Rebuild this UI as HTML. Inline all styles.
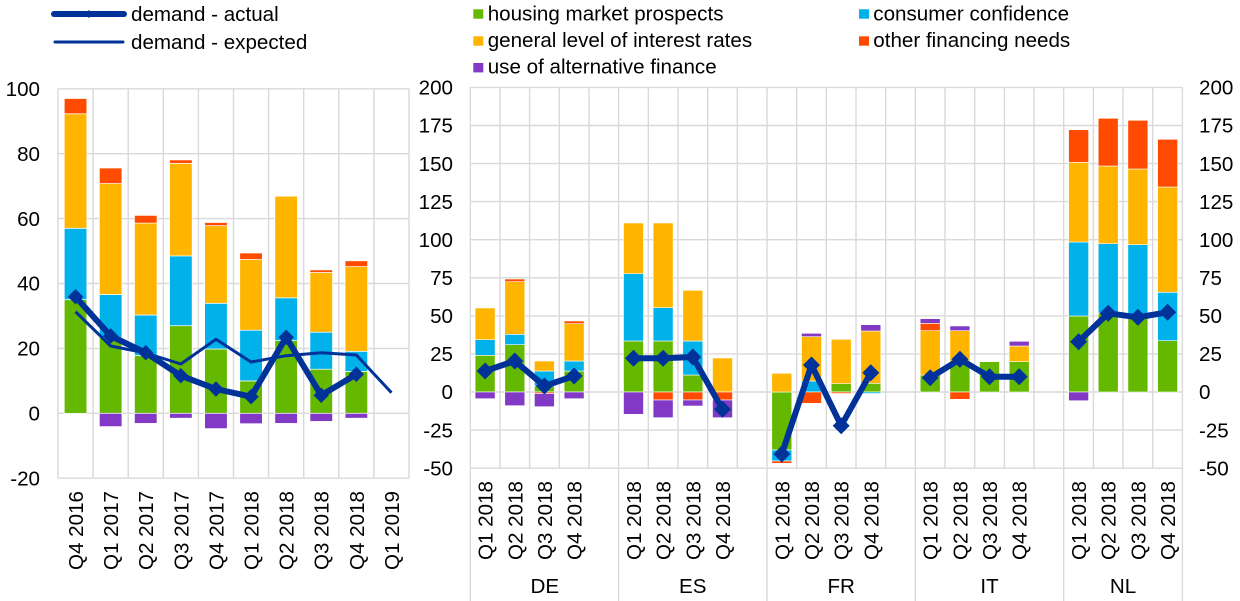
<!DOCTYPE html>
<html><head><meta charset="utf-8"><style>
html,body{margin:0;padding:0;background:#fff;}
svg{display:block;font-family:"Liberation Sans",Arial,sans-serif;}
</style></head><body>
<svg width="1240" height="601" viewBox="0 0 1240 601" xmlns="http://www.w3.org/2000/svg">
<rect width="1240" height="601" fill="#fff"/>
<!-- Legend left -->
<line x1="54" y1="14" x2="124" y2="14" stroke="#003299" stroke-width="6" stroke-linecap="round"/>
<polygon points="89,10 93,14 89,18 85,14" fill="#003299"/>
<line x1="55" y1="42" x2="123" y2="42" stroke="#003299" stroke-width="3" stroke-linecap="round"/>
<g font-size="20.6" fill="#000">
<text x="131" y="21">demand - actual</text>
<text x="131" y="49">demand - expected</text>
<!-- Legend right -->
<rect x="473.3" y="9.3" width="10" height="9.4" fill="#65b800"/>
<text x="487.7" y="20.5">housing market prospects</text>
<rect x="473.3" y="36.3" width="10" height="9.4" fill="#ffb400"/>
<text x="487.7" y="47">general level of interest rates</text>
<rect x="473.3" y="63" width="10" height="9.4" fill="#8139c6"/>
<text x="487.7" y="73.5">use of alternative finance</text>
<rect x="859" y="9.3" width="10" height="9.4" fill="#00b1ea"/>
<text x="873.3" y="20.5">consumer confidence</text>
<rect x="859" y="36.3" width="10" height="9.4" fill="#ff4b00"/>
<text x="873.3" y="47">other financing needs</text>
</g>

<!-- LEFT CHART grid -->
<g stroke="#d9d9d9" stroke-width="1.4" fill="none">
<path d="M58 88.8H409M58 153.7H409M58 218.6H409M58 283.5H409M58 348.4H409M58 413.3H409M58 478.2H409"/>
<path d="M58 88.8V478.2M93.1 88.8V478.2M128.2 88.8V478.2M163.3 88.8V478.2M198.4 88.8V478.2M233.5 88.8V478.2M268.6 88.8V478.2M303.7 88.8V478.2M338.8 88.8V478.2M373.9 88.8V478.2M409 88.8V478.2"/>
</g>
<g font-size="20.6" fill="#000" text-anchor="end">
<text x="40" y="96">100</text>
<text x="40" y="160.9">80</text>
<text x="40" y="225.8">60</text>
<text x="40" y="290.7">40</text>
<text x="40" y="355.6">20</text>
<text x="40" y="420.5">0</text>
<text x="40" y="485.4">-20</text>
</g>
<!-- left bars -->
<g stroke="#fff" stroke-width="0.7">
<g fill="#65b800">
<rect x="64.25" y="299.7" width="22.6" height="113.6"/>
<rect x="99.35" y="337.7" width="22.6" height="75.6"/>
<rect x="134.45" y="355.5" width="22.6" height="57.8"/>
<rect x="169.55" y="325.7" width="22.6" height="87.6"/>
<rect x="204.65" y="349" width="22.6" height="64.3"/>
<rect x="239.75" y="380.9" width="22.6" height="32.4"/>
<rect x="274.85" y="340.6" width="22.6" height="72.7"/>
<rect x="309.95" y="369.2" width="22.6" height="44.1"/>
<rect x="345.05" y="371.4" width="22.6" height="41.9"/>
</g>
<g fill="#00b1ea">
<rect x="64.25" y="228.3" width="22.6" height="71.4"/>
<rect x="99.35" y="294.5" width="22.6" height="43.2"/>
<rect x="134.45" y="315" width="22.6" height="40.5"/>
<rect x="169.55" y="255.9" width="22.6" height="69.8"/>
<rect x="204.65" y="303.3" width="22.6" height="45.7"/>
<rect x="239.75" y="330.2" width="22.6" height="50.7"/>
<rect x="274.85" y="297.8" width="22.6" height="42.8"/>
<rect x="309.95" y="332.2" width="22.6" height="37"/>
<rect x="345.05" y="351.3" width="22.6" height="20.1"/>
</g>
<g fill="#ffb400">
<rect x="64.25" y="113.8" width="22.6" height="114.5"/>
<rect x="99.35" y="183.6" width="22.6" height="110.9"/>
<rect x="134.45" y="223.1" width="22.6" height="91.9"/>
<rect x="169.55" y="163.4" width="22.6" height="92.5"/>
<rect x="204.65" y="225.7" width="22.6" height="77.6"/>
<rect x="239.75" y="259.5" width="22.6" height="70.7"/>
<rect x="274.85" y="196.2" width="22.6" height="101.6"/>
<rect x="309.95" y="272.5" width="22.6" height="59.7"/>
<rect x="345.05" y="266.6" width="22.6" height="84.7"/>
</g>
<g fill="#ff4b00">
<rect x="64.25" y="98.5" width="22.6" height="15.3"/>
<rect x="99.35" y="168" width="22.6" height="15.6"/>
<rect x="134.45" y="215.4" width="22.6" height="7.7"/>
<rect x="169.55" y="159.9" width="22.6" height="3.5"/>
<rect x="204.65" y="222.5" width="22.6" height="3.2"/>
<rect x="239.75" y="253" width="22.6" height="6.5"/>
<rect x="309.95" y="269.9" width="22.6" height="2.6"/>
<rect x="345.05" y="260.8" width="22.6" height="5.8"/>
</g>
<g fill="#8139c6">
<rect x="99.35" y="413.3" width="22.6" height="13.3"/>
<rect x="134.45" y="413.3" width="22.6" height="10.1"/>
<rect x="169.55" y="413.3" width="22.6" height="4.9"/>
<rect x="204.65" y="413.3" width="22.6" height="15.3"/>
<rect x="239.75" y="413.3" width="22.6" height="10.4"/>
<rect x="274.85" y="413.3" width="22.6" height="10.1"/>
<rect x="309.95" y="413.3" width="22.6" height="8.1"/>
<rect x="345.05" y="413.3" width="22.6" height="4.9"/>
</g>
</g>
<!-- left lines -->
<polyline fill="none" stroke="#003299" stroke-width="3" stroke-linejoin="round" points="75.55,311.7 110.65,346 145.75,353 180.85,364 215.95,339.3 251.05,362 286.15,355.7 321.25,352.7 356.35,355 391.45,392.7"/>
<polyline fill="none" stroke="#003299" stroke-width="6" stroke-linejoin="round" points="75.55,296.7 110.65,336 145.75,352.7 180.85,375.7 215.95,389 251.05,396.7 286.15,337.3 321.25,395.3 356.35,374.3"/>
<g fill="#003299">
<polygon points="75.55,289 83.25,296.7 75.55,304.4 67.85,296.7"/>
<polygon points="110.65,328.3 118.35,336 110.65,343.7 102.95,336"/>
<polygon points="145.75,345 153.45,352.7 145.75,360.4 138.05,352.7"/>
<polygon points="180.85,368 188.55,375.7 180.85,383.4 173.15,375.7"/>
<polygon points="215.95,381.3 223.65,389 215.95,396.7 208.25,389"/>
<polygon points="251.05,389 258.75,396.7 251.05,404.4 243.35,396.7"/>
<polygon points="286.15,329.6 293.85,337.3 286.15,345 278.45,337.3"/>
<polygon points="321.25,387.6 328.95,395.3 321.25,403 313.55,395.3"/>
<polygon points="356.35,366.6 364.05,374.3 356.35,382 348.65,374.3"/>
</g>
<g font-size="20.6" fill="#000" text-anchor="end">
<text transform="translate(83,491) rotate(-90)">Q4 2016</text>
<text transform="translate(118.1,491) rotate(-90)">Q1 2017</text>
<text transform="translate(153.2,491) rotate(-90)">Q2 2017</text>
<text transform="translate(188.3,491) rotate(-90)">Q3 2017</text>
<text transform="translate(223.4,491) rotate(-90)">Q4 2017</text>
<text transform="translate(258.5,491) rotate(-90)">Q1 2018</text>
<text transform="translate(293.6,491) rotate(-90)">Q2 2018</text>
<text transform="translate(328.7,491) rotate(-90)">Q3 2018</text>
<text transform="translate(363.8,491) rotate(-90)">Q4 2018</text>
<text transform="translate(398.9,491) rotate(-90)">Q1 2019</text>
</g>

<!-- RIGHT CHART grid -->
<g stroke="#d9d9d9" stroke-width="1.4" fill="none">
<path d="M470.3 87.4H1182.4M470.3 125.5H1182.4M470.3 163.6H1182.4M470.3 201.6H1182.4M470.3 239.7H1182.4M470.3 277.8H1182.4M470.3 315.9H1182.4M470.3 353.9H1182.4M470.3 392H1182.4M470.3 430.1H1182.4M470.3 468.2H1182.4"/>
<path d="M470.3 87.4V468.2M500 87.4V468.2M529.6 87.4V468.2M559.3 87.4V468.2M589 87.4V468.2M618.6 87.4V468.2M648.3 87.4V468.2M678 87.4V468.2M707.7 87.4V468.2M737.3 87.4V468.2M767 87.4V468.2M796.7 87.4V468.2M826.3 87.4V468.2M856 87.4V468.2M885.7 87.4V468.2M915.3 87.4V468.2M945 87.4V468.2M974.7 87.4V468.2M1004.4 87.4V468.2M1034 87.4V468.2M1063.7 87.4V468.2M1093.4 87.4V468.2M1123 87.4V468.2M1152.7 87.4V468.2M1182.4 87.4V468.2"/>
<path d="M470.3 468V601M618.6 468V601M767 468V601M915.3 468V601M1063.7 468V601M1182.4 468V601"/>
</g>
<g font-size="20.6" fill="#000" text-anchor="end">
<text x="453" y="94.6">200</text>
<text x="453" y="132.7">175</text>
<text x="453" y="170.8">150</text>
<text x="453" y="208.8">125</text>
<text x="453" y="246.9">100</text>
<text x="453" y="285">75</text>
<text x="453" y="323.1">50</text>
<text x="453" y="361.1">25</text>
<text x="453" y="399.2">0</text>
<text x="453" y="437.3">-25</text>
<text x="453" y="475.4">-50</text>
</g>
<g font-size="20.6" fill="#000">
<text x="1199" y="94.6">200</text>
<text x="1199" y="132.7">175</text>
<text x="1199" y="170.8">150</text>
<text x="1199" y="208.8">125</text>
<text x="1199" y="246.9">100</text>
<text x="1199" y="285">75</text>
<text x="1199" y="323.1">50</text>
<text x="1199" y="361.1">25</text>
<text x="1199" y="399.2">0</text>
<text x="1199" y="437.3">-25</text>
<text x="1199" y="475.4">-50</text>
</g>
<!-- right bars -->
<g stroke="#fff" stroke-width="0.6">
<g fill="#65b800">
<rect x="475.1" y="355.3" width="20" height="36.7"/>
<rect x="504.8" y="344.7" width="20" height="47.3"/>
<rect x="534.4" y="386" width="20" height="6"/>
<rect x="564.1" y="371" width="20" height="21"/>
<rect x="623.5" y="341" width="20" height="51"/>
<rect x="653.1" y="341" width="20" height="51"/>
<rect x="682.8" y="375" width="20" height="17"/>
<rect x="771.8" y="392" width="20" height="58"/>
<rect x="831.2" y="383.7" width="20" height="8.3"/>
<rect x="860.8" y="383.3" width="20" height="8.7"/>
<rect x="920.2" y="375" width="20" height="17"/>
<rect x="949.9" y="361.7" width="20" height="30.3"/>
<rect x="979.5" y="361.7" width="20" height="30.3"/>
<rect x="1009.2" y="361.7" width="20" height="30.3"/>
<rect x="1068.6" y="316" width="20" height="76"/>
<rect x="1098.2" y="313" width="20" height="79"/>
<rect x="1127.9" y="316.7" width="20" height="75.3"/>
<rect x="1157.6" y="340.7" width="20" height="51.3"/>
</g>
<g fill="#00b1ea">
<rect x="475.1" y="339.7" width="20" height="15.6"/>
<rect x="504.8" y="334.3" width="20" height="10.4"/>
<rect x="534.4" y="371" width="20" height="15"/>
<rect x="564.1" y="361" width="20" height="10"/>
<rect x="623.5" y="273.7" width="20" height="67.3"/>
<rect x="653.1" y="307.7" width="20" height="33.3"/>
<rect x="682.8" y="341" width="20" height="34"/>
<rect x="771.8" y="450" width="20" height="11"/>
<rect x="801.5" y="381" width="20" height="11"/>
<rect x="860.8" y="392" width="20" height="1.5"/>
<rect x="1068.6" y="242" width="20" height="74"/>
<rect x="1098.2" y="243.7" width="20" height="69.3"/>
<rect x="1127.9" y="244.7" width="20" height="72"/>
<rect x="1157.6" y="292.3" width="20" height="48.4"/>
</g>
<g fill="#ffb400">
<rect x="475.1" y="308" width="20" height="31.7"/>
<rect x="504.8" y="281.7" width="20" height="52.6"/>
<rect x="534.4" y="361" width="20" height="10"/>
<rect x="564.1" y="323.7" width="20" height="37.3"/>
<rect x="623.5" y="223" width="20" height="50.7"/>
<rect x="653.1" y="223" width="20" height="84.7"/>
<rect x="682.8" y="290.3" width="20" height="50.7"/>
<rect x="712.5" y="358" width="20" height="34"/>
<rect x="771.8" y="373.3" width="20" height="18.7"/>
<rect x="801.5" y="336.7" width="20" height="44.3"/>
<rect x="831.2" y="339.3" width="20" height="44.4"/>
<rect x="860.8" y="331" width="20" height="52.3"/>
<rect x="920.2" y="330.7" width="20" height="44.3"/>
<rect x="949.9" y="330.7" width="20" height="31"/>
<rect x="1009.2" y="346" width="20" height="15.7"/>
<rect x="1068.6" y="162.3" width="20" height="79.7"/>
<rect x="1098.2" y="166" width="20" height="77.7"/>
<rect x="1127.9" y="169" width="20" height="75.7"/>
<rect x="1157.6" y="187" width="20" height="105.3"/>
</g>
<g fill="#ff4b00">
<rect x="504.8" y="279" width="20" height="2.7"/>
<rect x="534.4" y="392" width="20" height="1.5"/>
<rect x="564.1" y="321" width="20" height="2.7"/>
<rect x="653.1" y="392" width="20" height="8"/>
<rect x="682.8" y="392" width="20" height="8"/>
<rect x="712.5" y="392" width="20" height="8"/>
<rect x="771.8" y="461" width="20" height="2.3"/>
<rect x="801.5" y="392" width="20" height="11.3"/>
<rect x="831.2" y="392" width="20" height="1.5"/>
<rect x="920.2" y="323.3" width="20" height="7.4"/>
<rect x="949.9" y="392" width="20" height="7.3"/>
<rect x="1068.6" y="129.7" width="20" height="32.6"/>
<rect x="1098.2" y="118.3" width="20" height="47.7"/>
<rect x="1127.9" y="120.3" width="20" height="48.7"/>
<rect x="1157.6" y="139.3" width="20" height="47.7"/>
</g>
<g fill="#8139c6">
<rect x="475.1" y="392" width="20" height="6.7"/>
<rect x="504.8" y="392" width="20" height="13.7"/>
<rect x="534.4" y="393.5" width="20" height="13.2"/>
<rect x="564.1" y="392" width="20" height="6.7"/>
<rect x="623.5" y="392" width="20" height="22.3"/>
<rect x="653.1" y="400" width="20" height="17.7"/>
<rect x="682.8" y="400" width="20" height="6"/>
<rect x="712.5" y="400" width="20" height="17.7"/>
<rect x="801.5" y="333.3" width="20" height="3.4"/>
<rect x="860.8" y="324.7" width="20" height="6.3"/>
<rect x="920.2" y="318.7" width="20" height="4.6"/>
<rect x="949.9" y="326" width="20" height="4.7"/>
<rect x="1009.2" y="341.3" width="20" height="4.7"/>
<rect x="1068.6" y="392" width="20" height="8.7"/>
</g>
</g>
<!-- right lines -->
<g fill="none" stroke="#003299" stroke-width="6" stroke-linejoin="round">
<polyline points="485.1,371 514.8,361 544.4,386 574.1,376"/>
<polyline points="633.5,358.3 663.1,358.3 692.8,357 722.5,409.3"/>
<polyline points="781.8,454 811.5,365 841.2,425.7 870.8,372.7"/>
<polyline points="930.2,377.7 959.9,359.3 989.5,376.7 1019.2,376.7"/>
<polyline points="1078.6,341.7 1108.2,313.3 1137.9,317.3 1167.6,312.3"/>
</g>
<g fill="#003299">
<polygon points="485.1,362.5 493.6,371 485.1,379.5 476.6,371"/>
<polygon points="514.8,352.5 523.3,361 514.8,369.5 506.3,361"/>
<polygon points="544.4,377.5 552.9,386 544.4,394.5 535.9,386"/>
<polygon points="574.1,367.5 582.6,376 574.1,384.5 565.6,376"/>
<polygon points="633.5,349.8 642,358.3 633.5,366.8 625,358.3"/>
<polygon points="663.1,349.8 671.6,358.3 663.1,366.8 654.6,358.3"/>
<polygon points="692.8,348.5 701.3,357 692.8,365.5 684.3,357"/>
<polygon points="722.5,400.8 731,409.3 722.5,417.8 714,409.3"/>
<polygon points="781.8,445.5 790.3,454 781.8,462.5 773.3,454"/>
<polygon points="811.5,356.5 820,365 811.5,373.5 803,365"/>
<polygon points="841.2,417.2 849.7,425.7 841.2,434.2 832.7,425.7"/>
<polygon points="870.8,364.2 879.3,372.7 870.8,381.2 862.3,372.7"/>
<polygon points="930.2,369.2 938.7,377.7 930.2,386.2 921.7,377.7"/>
<polygon points="959.9,350.8 968.4,359.3 959.9,367.8 951.4,359.3"/>
<polygon points="989.5,368.2 998,376.7 989.5,385.2 981,376.7"/>
<polygon points="1019.2,368.2 1027.7,376.7 1019.2,385.2 1010.7,376.7"/>
<polygon points="1078.6,333.2 1087.1,341.7 1078.6,350.2 1070.1,341.7"/>
<polygon points="1108.2,304.8 1116.7,313.3 1108.2,321.8 1099.7,313.3"/>
<polygon points="1137.9,308.8 1146.4,317.3 1137.9,325.8 1129.4,317.3"/>
<polygon points="1167.6,303.8 1176.1,312.3 1167.6,320.8 1159.1,312.3"/>
</g>
<!-- right x labels -->
<g font-size="20.6" fill="#000" text-anchor="end">
<text transform="translate(492.6,481) rotate(-90)">Q1 2018</text>
<text transform="translate(522.3,481) rotate(-90)">Q2 2018</text>
<text transform="translate(551.9,481) rotate(-90)">Q3 2018</text>
<text transform="translate(581.6,481) rotate(-90)">Q4 2018</text>
<text transform="translate(641,481) rotate(-90)">Q1 2018</text>
<text transform="translate(670.6,481) rotate(-90)">Q2 2018</text>
<text transform="translate(700.3,481) rotate(-90)">Q3 2018</text>
<text transform="translate(730,481) rotate(-90)">Q4 2018</text>
<text transform="translate(789.3,481) rotate(-90)">Q1 2018</text>
<text transform="translate(819,481) rotate(-90)">Q2 2018</text>
<text transform="translate(848.7,481) rotate(-90)">Q3 2018</text>
<text transform="translate(878.3,481) rotate(-90)">Q4 2018</text>
<text transform="translate(937.7,481) rotate(-90)">Q1 2018</text>
<text transform="translate(967.4,481) rotate(-90)">Q2 2018</text>
<text transform="translate(997,481) rotate(-90)">Q3 2018</text>
<text transform="translate(1026.7,481) rotate(-90)">Q4 2018</text>
<text transform="translate(1086.1,481) rotate(-90)">Q1 2018</text>
<text transform="translate(1115.7,481) rotate(-90)">Q2 2018</text>
<text transform="translate(1145.4,481) rotate(-90)">Q3 2018</text>
<text transform="translate(1175.1,481) rotate(-90)">Q4 2018</text>
</g>
<g font-size="20.6" fill="#000" text-anchor="middle">
<text x="544.8" y="593">DE</text>
<text x="692.8" y="593">ES</text>
<text x="841.2" y="593">FR</text>
<text x="989.5" y="593">IT</text>
<text x="1123" y="593">NL</text>
</g>
</svg>
</body></html>
